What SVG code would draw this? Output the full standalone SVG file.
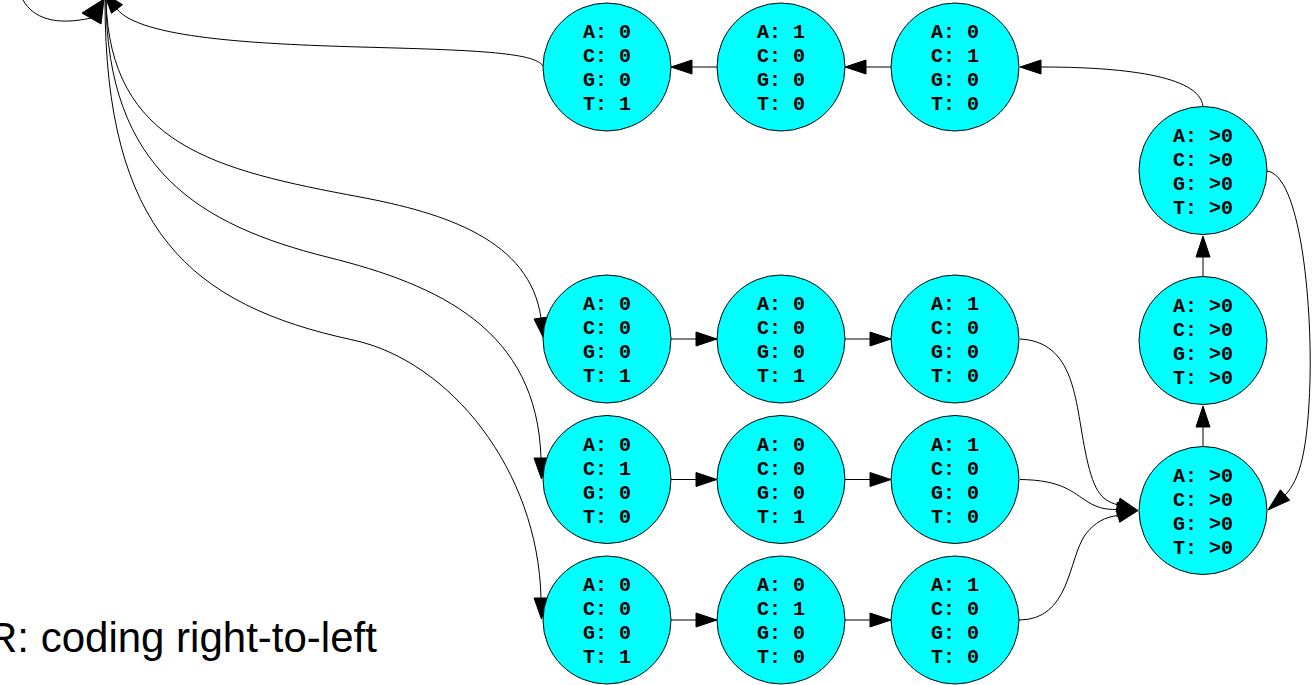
<svg xmlns="http://www.w3.org/2000/svg" width="1314" height="685" viewBox="0 0 1314 685">
<style>
.n circle{fill:#00ffff;stroke:#000;stroke-width:1}
.n text{font-family:"Liberation Mono","Courier New",monospace;font-weight:bold;font-size:20px;fill:#000;text-anchor:middle}
.e path,.e line{fill:none;stroke:#000;stroke-width:1}
.e polygon{fill:#000;stroke:#000;stroke-width:1}
.cap{font-family:"Liberation Sans",Arial,sans-serif;font-size:42px;fill:#000}
</style>
<rect width="1314" height="685" fill="#fff"/>
<g id="connectors" class="e">
<!-- top-left offscreen edges -->
<path d="M23,0 C33,18 55,26 91,18"/>
<polygon points="82,13 101,24 104,-1"/>
<path d="M543,66 C535,52 470,50 360,47 C255,44 140,38 117,9"/>
<polygon points="122.5,4.7 111.5,13.3 104,-7"/>
<path d="M106,0 C110,145 215,170 360,197 C445,213 530,240 541,318"/>
<polygon points="534,319 548,317 544,339"/>
<path d="M106,0 C107,170 200,225 327,257 C440,285 537,330 541,458"/>
<polygon points="534,458 548,458 541.5,479"/>
<path d="M105,0 C105,230 190,305 353,340 C450,361 538,470 541,598"/>
<polygon points="534,598 548,598 541.5,619"/>
<!-- top row -->
<line x1="891" y1="67" x2="866" y2="67"/>
<polygon points="866,60 845,67 866,74"/>
<line x1="717" y1="67" x2="692" y2="67"/>
<polygon points="692,60 671,67 692,74"/>
<path d="M1203,106.5 C1200,75 1120,67 1041,67"/>
<polygon points="1041,60 1020,67 1041,74"/>
<!-- right column -->
<line x1="1203" y1="446.5" x2="1203" y2="427"/>
<polygon points="1196,427 1203,406 1210,427"/>
<line x1="1203" y1="276.5" x2="1203" y2="257"/>
<polygon points="1196,257 1203,236 1210,257"/>
<path d="M1267,171 C1300,175 1312,300 1310,380 C1308,450 1300,480 1285,495"/>
<polygon points="1289.6,500.2 1280.4,489.8 1268,510"/>
<!-- rows -->
<line x1="671" y1="339" x2="696" y2="339"/>
<polygon points="696,332 717,339 696,346"/>
<line x1="845" y1="339" x2="870" y2="339"/>
<polygon points="870,332 891,339 870,346"/>
<line x1="671" y1="479.5" x2="696" y2="479.5"/>
<polygon points="696,472.5 717,479.5 696,486.5"/>
<line x1="845" y1="479.5" x2="870" y2="479.5"/>
<polygon points="870,472.5 891,479.5 870,486.5"/>
<line x1="671" y1="620" x2="696" y2="620"/>
<polygon points="696,613 717,620 696,627"/>
<line x1="845" y1="620" x2="870" y2="620"/>
<polygon points="870,613 891,620 870,627"/>
<!-- converging into bottom-right -->
<path d="M1020,339 C1075,342 1075,400 1085,450 C1093,490 1100,500 1118,505"/>
<polygon points="1116,511.8 1120,498.2 1138,510.5"/>
<path d="M1020,479.5 C1062,480 1072,492 1088,502 C1098,508 1105,509.5 1117,509.5"/>
<polygon points="1117,502.5 1117,516.5 1138,510.5"/>
<path d="M1019,620 C1070,620 1068,560 1085,535 C1095,522 1105,517 1118,515.5"/>
<polygon points="1119.7,522.3 1116.3,508.7 1138,510.5"/>
</g>
<g id="t1" class="n"><circle cx="607" cy="67" r="64"/><text><tspan x="607" y="38">A: 0</tspan><tspan x="607" y="62">C: 0</tspan><tspan x="607" y="86">G: 0</tspan><tspan x="607" y="110">T: 1</tspan></text></g>
<g id="t2" class="n"><circle cx="781" cy="67" r="64"/><text><tspan x="781" y="38">A: 1</tspan><tspan x="781" y="62">C: 0</tspan><tspan x="781" y="86">G: 0</tspan><tspan x="781" y="110">T: 0</tspan></text></g>
<g id="t3" class="n"><circle cx="955" cy="67" r="64"/><text><tspan x="955" y="38">A: 0</tspan><tspan x="955" y="62">C: 1</tspan><tspan x="955" y="86">G: 0</tspan><tspan x="955" y="110">T: 0</tspan></text></g>
<g id="r1" class="n"><circle cx="1203" cy="170.5" r="64"/><text><tspan x="1203" y="141.5">A: &gt;0</tspan><tspan x="1203" y="165.5">C: &gt;0</tspan><tspan x="1203" y="189.5">G: &gt;0</tspan><tspan x="1203" y="213.5">T: &gt;0</tspan></text></g>
<g id="r2" class="n"><circle cx="1203" cy="340.5" r="64"/><text><tspan x="1203" y="311.5">A: &gt;0</tspan><tspan x="1203" y="335.5">C: &gt;0</tspan><tspan x="1203" y="359.5">G: &gt;0</tspan><tspan x="1203" y="383.5">T: &gt;0</tspan></text></g>
<g id="r3" class="n"><circle cx="1203" cy="510.5" r="64"/><text><tspan x="1203" y="481.5">A: &gt;0</tspan><tspan x="1203" y="505.5">C: &gt;0</tspan><tspan x="1203" y="529.5">G: &gt;0</tspan><tspan x="1203" y="553.5">T: &gt;0</tspan></text></g>
<g id="a1" class="n"><circle cx="607" cy="339" r="64"/><text><tspan x="607" y="310">A: 0</tspan><tspan x="607" y="334">C: 0</tspan><tspan x="607" y="358">G: 0</tspan><tspan x="607" y="382">T: 1</tspan></text></g>
<g id="a2" class="n"><circle cx="781" cy="339" r="64"/><text><tspan x="781" y="310">A: 0</tspan><tspan x="781" y="334">C: 0</tspan><tspan x="781" y="358">G: 0</tspan><tspan x="781" y="382">T: 1</tspan></text></g>
<g id="a3" class="n"><circle cx="955" cy="339" r="64"/><text><tspan x="955" y="310">A: 1</tspan><tspan x="955" y="334">C: 0</tspan><tspan x="955" y="358">G: 0</tspan><tspan x="955" y="382">T: 0</tspan></text></g>
<g id="b1" class="n"><circle cx="607" cy="479.5" r="64"/><text><tspan x="607" y="450.5">A: 0</tspan><tspan x="607" y="474.5">C: 1</tspan><tspan x="607" y="498.5">G: 0</tspan><tspan x="607" y="522.5">T: 0</tspan></text></g>
<g id="b2" class="n"><circle cx="781" cy="479.5" r="64"/><text><tspan x="781" y="450.5">A: 0</tspan><tspan x="781" y="474.5">C: 0</tspan><tspan x="781" y="498.5">G: 0</tspan><tspan x="781" y="522.5">T: 1</tspan></text></g>
<g id="b3" class="n"><circle cx="955" cy="479.5" r="64"/><text><tspan x="955" y="450.5">A: 1</tspan><tspan x="955" y="474.5">C: 0</tspan><tspan x="955" y="498.5">G: 0</tspan><tspan x="955" y="522.5">T: 0</tspan></text></g>
<g id="c1" class="n"><circle cx="607" cy="620" r="64"/><text><tspan x="607" y="591">A: 0</tspan><tspan x="607" y="615">C: 0</tspan><tspan x="607" y="639">G: 0</tspan><tspan x="607" y="663">T: 1</tspan></text></g>
<g id="c2" class="n"><circle cx="781" cy="620" r="64"/><text><tspan x="781" y="591">A: 0</tspan><tspan x="781" y="615">C: 1</tspan><tspan x="781" y="639">G: 0</tspan><tspan x="781" y="663">T: 0</tspan></text></g>
<g id="c3" class="n"><circle cx="955" cy="620" r="64"/><text><tspan x="955" y="591">A: 1</tspan><tspan x="955" y="615">C: 0</tspan><tspan x="955" y="639">G: 0</tspan><tspan x="955" y="663">T: 0</tspan></text></g>
<text class="cap" x="-13" y="652">R: coding right-to-left</text>
</svg>
